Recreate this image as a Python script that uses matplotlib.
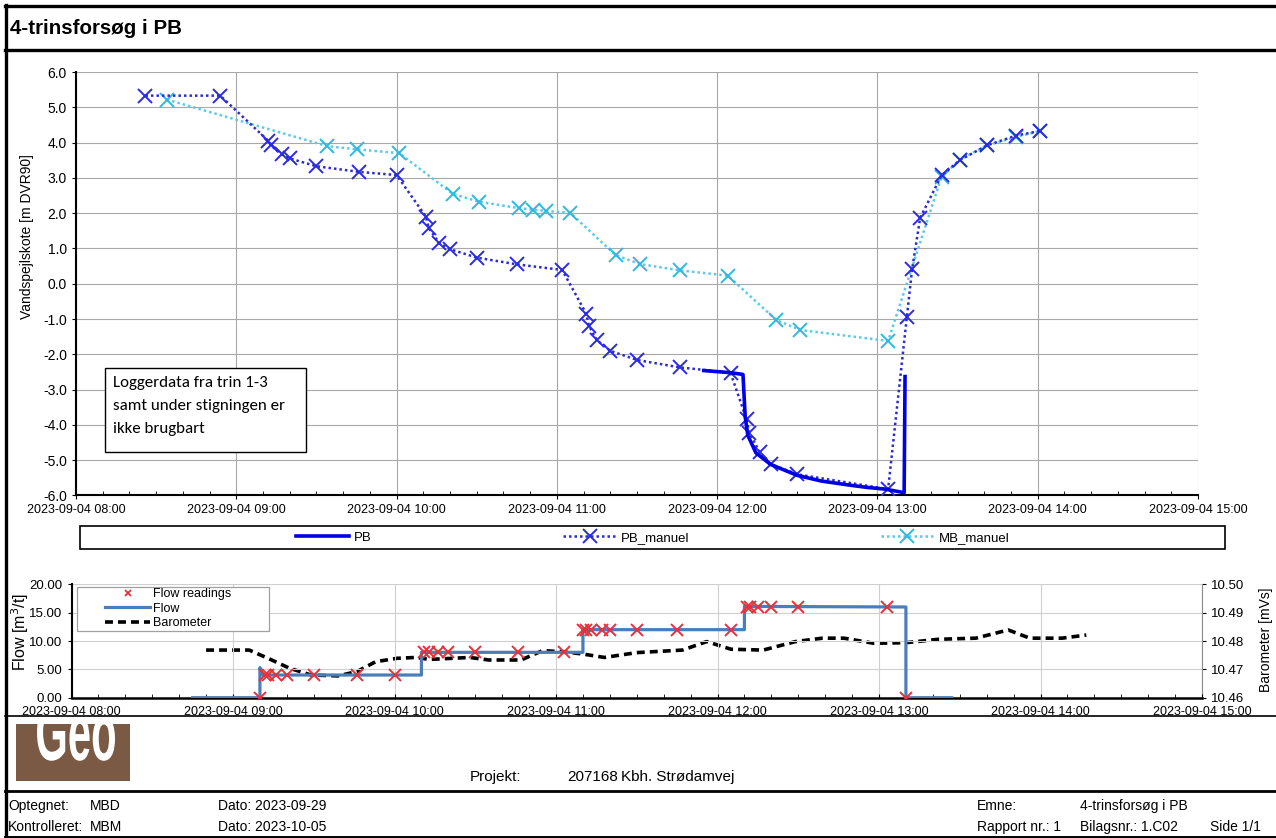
import matplotlib
matplotlib.use("Agg")
import matplotlib.pyplot as plt
import matplotlib.dates as mdates
import matplotlib.ticker as mticker
import pandas as pd
from matplotlib import font_manager
from matplotlib.font_manager import FontProperties
from matplotlib.lines import Line2D
from matplotlib.patches import Rectangle, PathPatch
from matplotlib.textpath import TextPath
from matplotlib.transforms import Affine2D

W, H = 1276, 838
DAG = "2023-09-04 "

# Manuelle pejlinger i PB
pb_manuel_tid = ["08:26", "08:54", "09:12", "09:13", "09:17", "09:20", "09:30", "09:46",
                 "10:00", "10:11", "10:12", "10:16", "10:20", "10:30", "10:45", "11:02",
                 "11:11", "11:12", "11:15", "11:20", "11:30", "11:46", "12:05", "12:11",
                 "12:12", "12:16", "12:20", "12:30", "13:04", "13:11", "13:13", "13:16",
                 "13:24", "13:31", "13:41", "13:52", "14:01"]
pb_manuel_kote = [5.33, 5.33, 4.05, 3.92, 3.67, 3.55, 3.33, 3.17,
                  3.08, 1.90, 1.58, 1.15, 0.98, 0.74, 0.55, 0.39,
                  -0.85, -1.19, -1.60, -1.90, -2.16, -2.37, -2.52, -3.84,
                  -4.22, -4.78, -5.11, -5.40, -5.82, -0.95, 0.42, 1.87,
                  3.07, 3.51, 3.92, 4.20, 4.33]

# Manuelle pejlinger i MB
mb_manuel_tid = ["08:34", "09:34", "09:45", "10:01", "10:21", "10:31", "10:46", "10:51",
                 "10:56", "11:05", "11:22", "11:31", "11:46", "12:04", "12:22", "12:31",
                 "13:04", "13:24", "13:31", "13:41", "13:52", "14:01"]
mb_manuel_kote = [5.22, 3.90, 3.81, 3.70, 2.55, 2.32, 2.14, 2.10,
                  2.06, 2.01, 0.81, 0.56, 0.38, 0.23, -1.02, -1.31,
                  -1.62, 3.03, 3.52, 3.92, 4.16, 4.33]

# Loggerdata PB
pb_logger_tid = ["11:55", "12:05", "12:09:40", "12:10:30", "12:11:30", "12:14:30", "12:20",
                 "12:30", "12:39", "12:49", "12:56", "13:03", "13:10", "13:10:20"]
pb_logger_kote = [-2.46, -2.52, -2.57, -3.77, -4.30, -4.79, -5.12,
                  -5.43, -5.59, -5.70, -5.77, -5.82, -5.92, -2.63]

# Flow (logget)
flow_tid = ["08:45", "09:10", "09:10", "09:11", "10:10", "10:10", "11:10", "11:10",
            "12:10", "12:10", "13:10", "13:10", "13:27"]
flow_vaerdi = [0.0, 0.0, 5.3, 4.0, 4.0, 8.0, 8.0, 12.0,
               12.0, 16.1, 16.0, 0.0, 0.0]

# Flow aflæsninger
flow_aflaes_tid = ["09:10", "09:12", "09:13", "09:16", "09:20", "09:30", "09:46", "10:00",
                   "10:11", "10:13", "10:16", "10:20", "10:30", "10:46", "11:03",
                   "11:10", "11:11", "11:13", "11:17", "11:20", "11:30", "11:45", "12:05",
                   "12:11", "12:12", "12:15", "12:20", "12:30", "13:03", "13:10"]
flow_aflaes = [0.0, 4.0, 4.0, 4.0, 4.0, 4.0, 4.0, 4.0,
               8.0, 8.0, 8.0, 8.0, 8.0, 8.0, 8.0,
               12.0, 12.0, 12.0, 12.0, 12.0, 12.0, 12.0, 12.0,
               16.0, 16.0, 16.0, 16.0, 16.0, 16.0, 0.0]

# Barometer
baro_tid = ["08:50", "09:06", "09:13", "09:21", "09:29", "09:39", "09:46", "09:53",
            "10:01", "10:08", "10:13", "10:28", "10:35", "10:47", "10:55", "11:03",
            "11:10", "11:18", "11:30", "11:47", "11:56", "12:05", "12:17", "12:29",
            "12:39", "12:47", "12:58", "13:10", "13:22", "13:36", "13:48", "13:56",
            "14:08", "14:17"]
baro = [10.4768, 10.4768, 10.4739, 10.4704, 10.4680, 10.4677, 10.4692, 10.4727,
        10.4739, 10.4742, 10.4735, 10.4742, 10.4733, 10.4733, 10.4766, 10.4762,
        10.4754, 10.4742, 10.4759, 10.4768, 10.4798, 10.4771, 10.4768, 10.4798,
        10.4810, 10.4810, 10.4792, 10.4794, 10.4806, 10.4810, 10.4839, 10.4810,
        10.4810, 10.4821]


def tid(liste):
    return pd.to_datetime([DAG + s for s in liste], format="mixed")


def fx(x):
    return x / W


def fy(y):
    return 1 - y / H


navne = {f.name for f in font_manager.fontManager.ttflist}
SMAL = "Liberation Sans Narrow" if "Liberation Sans Narrow" in navne else "Liberation Sans"
BOKS = "Carlito" if "Carlito" in navne else "Lato"
plt.rcParams["font.family"] = ["Liberation Sans", "DejaVu Sans"]

fig = plt.figure(figsize=(W / 100, H / 100), dpi=100)

x0 = pd.Timestamp(DAG + "08:00")
x1 = pd.Timestamp(DAG + "15:00")
fmt = mdates.DateFormatter("%Y-%m-%d %H:%M")

# ---------------- hovedplot ----------------
ax = fig.add_axes([fx(76), fy(495.5), fx(1198) - fx(76), fy(72) - fy(495.5)])
ax.plot(tid(mb_manuel_tid), mb_manuel_kote, ls=(0, (1, 1.2)), lw=1.8, color="#5cc9ea",
        marker="x", ms=10, mew=1.4, mec="#2fb8e0", label="MB_manuel", zorder=3)
ax.plot(tid(pb_manuel_tid), pb_manuel_kote, ls=(0, (1, 1.2)), lw=1.8, color="#2b2bd0",
        marker="x", ms=10, mew=1.4, mec="#2a2ae0", label="PB_manuel", zorder=4)
ax.plot(tid(pb_logger_tid), pb_logger_kote, color="#0000e6", lw=2.6, label="PB", zorder=5)

ax.set_xlim(x0, x1)
ax.set_ylim(-6, 6)
ax.yaxis.set_major_locator(mticker.MultipleLocator(1))
ax.yaxis.set_major_formatter(mticker.FormatStrFormatter("%.1f"))
ax.xaxis.set_major_locator(mdates.HourLocator())
ax.xaxis.set_minor_locator(mdates.MinuteLocator(byminute=range(0, 60, 10)))
ax.xaxis.set_major_formatter(fmt)
ax.grid(True, which="major", color="#a8a8a8", lw=0.8)
for s in ["top", "right"]:
    ax.spines[s].set_visible(False)
for s in ["left", "bottom"]:
    ax.spines[s].set_linewidth(1.5)
ax.tick_params(axis="x", which="major", direction="out", length=3, pad=3)
ax.tick_params(axis="x", which="minor", direction="in", length=3)
ax.tick_params(axis="y", direction="out", length=3, labelsize=10)
for lbl in ax.get_xticklabels():
    lbl.set_fontfamily(SMAL)
    lbl.set_fontsize(10 if SMAL != "Liberation Sans" else 9)

fig.text(fx(27), fy(237), "Vandspejlskote [m DVR90]", rotation=90, ha="center", va="center",
         fontsize=10)

# tekstboks
fig.add_artist(Rectangle((fx(105), fy(452)), fx(306) - fx(105), fy(368) - fy(452),
                         transform=fig.transFigure, facecolor="white", edgecolor="black",
                         lw=1, zorder=4))
fig.text(fx(113), fy(376), "Loggerdata fra trin 1-3\nsamt under stigningen er\nikke brugbart",
         ha="left", va="top", fontsize=12.2, family=BOKS, linespacing=1.8, zorder=5)

# legend under hovedplot
fig.add_artist(Rectangle((fx(80), fy(549)), fx(1225) - fx(80), fy(526) - fy(549),
                         transform=fig.transFigure, facecolor="white", edgecolor="black",
                         lw=1.2, zorder=4))
h, l = ax.get_legend_handles_labels()
order = [2, 1, 0]
fig.legend([h[i] for i in order], [l[i] for i in order], loc="center",
           bbox_to_anchor=(fx(653), fy(537.5)), ncol=3, frameon=False, columnspacing=14.5,
           handlelength=4, handletextpad=0.4, prop={"family": SMAL, "size": 9.5})

# ---------------- flow-plot ----------------
bx = fig.add_axes([fx(71.5), fy(697.7), fx(1202) - fx(71.5), fy(584.3) - fy(697.7)])
bx2 = bx.twinx()
lf, = bx.plot(tid(flow_tid), flow_vaerdi, color="#4a7ebb", lw=2.3, label="Flow", zorder=3)
lr, = bx.plot(tid(flow_aflaes_tid), flow_aflaes, ls="none", marker="x", ms=9, mew=1.4,
              color="#e8303a", label="Flow readings", zorder=4)
lb, = bx2.plot(tid(baro_tid), baro, color="black", lw=2.6, ls=(0, (2.2, 1.4)), label="Barometer")
bx.set_zorder(bx2.get_zorder() + 1)
bx.patch.set_visible(False)

bx.set_xlim(x0, x1)
bx.set_ylim(0, 20)
bx2.set_ylim(10.46, 10.50)
bx.yaxis.set_major_locator(mticker.MultipleLocator(5))
bx.yaxis.set_major_formatter(mticker.FormatStrFormatter("%.2f"))
bx2.yaxis.set_major_locator(mticker.MultipleLocator(0.01))
bx2.yaxis.set_major_formatter(mticker.FormatStrFormatter("%.2f"))
bx.xaxis.set_major_locator(mdates.HourLocator())
bx.xaxis.set_minor_locator(mdates.MinuteLocator(byminute=range(0, 60, 10)))
bx.xaxis.set_major_formatter(fmt)
bx.grid(True, which="major", color="#cfcfcf", lw=0.8)
bx.spines["top"].set_visible(False)
bx2.spines["top"].set_visible(False)
bx.spines["right"].set_visible(False)
bx2.spines["left"].set_visible(False)
bx2.spines["bottom"].set_visible(False)
bx2.spines["right"].set_color("#8a8a8a")
bx.spines["left"].set_linewidth(1.5)
bx.spines["bottom"].set_linewidth(1.8)
bx.tick_params(axis="x", which="both", direction="in", length=3, labelsize=9, pad=6)
bx.tick_params(axis="y", direction="out", length=3, labelsize=9.5)
bx2.tick_params(axis="y", direction="out", length=3, labelsize=9.5)

# legend i flow-plot (ramme tegnet separat, som i Excel)
fig.add_artist(Rectangle((fx(77), fy(631)), fx(269) - fx(77), fy(587) - fy(631),
                         transform=fig.transFigure, facecolor="white", edgecolor="#a0a0a0",
                         lw=0.9, zorder=4))
lr_leg = Line2D([], [], ls="none", marker="x", ms=5, mew=1.3, color="#e8303a")
fig.legend([lr_leg, lf, lb], ["Flow readings", "Flow", "Barometer"], loc="upper left",
           bbox_to_anchor=(fx(104), fy(587)), frameon=False, borderaxespad=0, borderpad=0.1,
           fontsize=9, handlelength=3.6, handletextpad=0.25, labelspacing=0.2)

fig.text(fx(20), fy(632), "Flow [m$^3$/t]", rotation=90, ha="center", va="center", fontsize=11.5)
fig.text(fx(1266), fy(640), "Barometer [mVs]", rotation=90, ha="center", va="center",
         fontsize=10)

# ---------------- ramme og tekst ----------------
def linje(xa, ya, xb, yb, lw):
    fig.add_artist(Line2D([fx(xa), fx(xb)], [fy(ya), fy(yb)], transform=fig.transFigure,
                          color="black", lw=lw))


linje(5, 6, W, 6, 2.4)
linje(6, 5, 6, H, 2.4)
linje(5, 50, W, 50, 2.4)
linje(5, 716, W, 716, 1.2)
linje(5, 791, W, 791, 2.0)
linje(5, 836.5, W, 836.5, 1.4)

fig.text(fx(10), fy(28), "4-trinsforsøg i PB", ha="left", va="center", fontsize=14.8,
         fontweight="bold")

# logo: brun boks med smal, beskåret "Geo"
lx = fig.add_axes([fx(16), fy(781), fx(130) - fx(16), fy(724) - fy(781)])
lx.set_facecolor("#7b5a45")
lx.set_xlim(0, 114)
lx.set_ylim(0, 57)
lx.set_xticks([])
lx.set_yticks([])
for s in lx.spines.values():
    s.set_visible(False)
tp = TextPath((0, 0), "Geo", size=1, prop=FontProperties(family="Liberation Sans", weight="bold"))
bb = tp.get_extents()
trans = Affine2D().translate(-bb.x0, 0).scale(78 / bb.width, 80).translate(21, 21) + lx.transData
lx.add_patch(PathPatch(tp, transform=trans, facecolor="white", lw=0))

fig.text(fx(470), fy(777), "Projekt:", ha="left", va="center", fontsize=11)
fig.text(fx(567), fy(777), "207168", ha="left", va="center", fontsize=11)
fig.text(fx(621), fy(777), "Kbh. Strødamvej", ha="left", va="center", fontsize=11)

fod = [(8, 806, "Optegnet:"), (90, 806, "MBD"), (218, 806, "Dato: 2023-09-29"),
       (977, 806, "Emne:"), (1080, 806, "4-trinsforsøg i PB"),
       (8, 827, "Kontrolleret:"), (90, 827, "MBM"), (218, 827, "Dato: 2023-10-05"),
       (977, 827, "Rapport nr.: 1"), (1080, 827, "Bilagsnr.: 1.C02"), (1210, 827, "Side 1/1")]
for x, y, s in fod:
    fig.text(fx(x), fy(y), s, ha="left", va="center", fontsize=10, family=SMAL)

fig.savefig("out.png", dpi=100, facecolor="white")
